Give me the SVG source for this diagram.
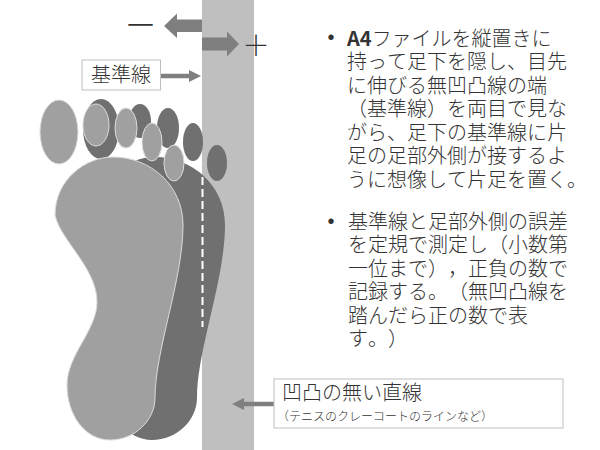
<svg xmlns="http://www.w3.org/2000/svg" width="600" height="450" viewBox="0 0 600 450">
<defs>
<style>
.band{fill:#bfbfbf}
.dark{fill:#707070}
.light{fill:#a0a0a0;stroke:#dcdcdc;stroke-width:1}
.arr{fill:#7f7f7f}
.conn{stroke:#7f7f7f;stroke-width:4.5;fill:none}
.box{fill:#ffffff;stroke:#bfbfbf;stroke-width:1}
.t{font-family:"Noto Sans CJK JP","Noto Sans",sans-serif;fill:#333333;font-weight:300;text-spacing-trim:space-all;font-kerning:none}
.b{font-family:"Liberation Sans",sans-serif;fill:#333333}
</style>
<marker id="head" markerUnits="userSpaceOnUse" markerWidth="12" markerHeight="12" refX="0" refY="6" orient="auto" viewBox="0 0 12 12">
<path d="M0,0 L12,6 L0,12 Z" fill="#7f7f7f"/>
</marker>
<path id="sole" d="M113,157 C85,157 55,180 55,215 C60,240 97,268 97,302 C97,330 67,355 67,385 C67,415 85,440 110,440 C135,440 155,420 155,398 C155,350 183,280 183,225 C183,185 150,157 113,157 Z"/>
</defs>
<rect id="line-band" class="band" x="202" y="0" width="52" height="450"/>
<g id="foot-right" class="dark">
<use href="#sole" transform="translate(42,0)"/>
<ellipse cx="101" cy="129" rx="18" ry="30"/>
<ellipse cx="140" cy="121" rx="11" ry="17"/>
<ellipse cx="168" cy="128" rx="11" ry="20"/>
<ellipse cx="193" cy="142" rx="10" ry="19"/>
<ellipse cx="217" cy="163" rx="10" ry="18"/>
</g>
<line id="dashed-edge" x1="202.5" y1="177" x2="202.5" y2="327" stroke="#ffffff" stroke-width="2" stroke-dasharray="8 4"/>
<g id="foot-left" class="light">
<use href="#sole"/>
<ellipse cx="59" cy="132" rx="19" ry="32"/>
<ellipse cx="96" cy="125" rx="13" ry="21"/>
<ellipse cx="126" cy="128" rx="11" ry="20"/>
<ellipse cx="152" cy="142" rx="10" ry="19"/>
<ellipse cx="174" cy="163" rx="10" ry="18"/>
</g>
<g id="connectors">
<polygon class="arr" points="202,19.5 177,19.5 177,13.5 164,26 177,38 177,32 202,32"/>
<polygon class="arr" points="202,37.5 227,37.5 227,31.5 239,44 227,56.5 227,50.5 202,50.5"/>
<line class="conn" x1="161" y1="76" x2="189" y2="76" marker-end="url(#head)"/>
<line class="conn" x1="274" y1="404" x2="244" y2="404" marker-end="url(#head)"/>
</g>
<g id="sign-minus"><text class="t" x="140.5" y="37" font-size="33" text-anchor="middle">－</text></g>
<g id="sign-plus"><text class="t" x="256" y="55.5" font-size="28" text-anchor="middle">＋</text></g>
<g id="label-kijunsen">
<rect class="box" x="82" y="60" width="78.5" height="30"/>
<text class="t" x="91" y="82" font-size="20">基準線</text>
</g>
<g id="label-straight">
<rect class="box" x="274" y="379" width="289" height="49"/>
<text class="t" x="282" y="400" font-size="20">凹凸の無い直線</text>
<text class="t" x="277" y="421" font-size="12">（テニスのクレーコートのラインなど）</text>
</g>
<g id="bullet-1">
<text class="b" x="331" y="44" font-size="20" text-anchor="middle">•</text>
<text class="t" font-size="20">
<tspan x="347" y="45.5"><tspan font-weight="bold">A4</tspan>ファイルを縦置きに</tspan>
<tspan x="347" y="69">持って足下を隠し、目先</tspan>
<tspan x="347" y="92.6">に伸びる無凹凸線の端</tspan>
<tspan x="347" y="116.2">（基準線）を両目で見な</tspan>
<tspan x="347" y="139.8">がら、足下の基準線に片</tspan>
<tspan x="347" y="163.4">足の足部外側が接するよ</tspan>
<tspan x="347" y="187">うに想像して片足を置く。</tspan>
</text>
</g>
<g id="bullet-2">
<text class="b" x="331" y="228" font-size="20" text-anchor="middle">•</text>
<text class="t" font-size="20">
<tspan x="348" y="228.5">基準線と足部外側の誤差</tspan>
<tspan x="348" y="252">を定規で測定し（小数第</tspan>
<tspan x="348" y="275.5">一位まで），正負の数で</tspan>
<tspan x="348" y="299">記録する。（無凹凸線を</tspan>
<tspan x="348" y="322.5">踏んだら正の数で表</tspan>
<tspan x="348" y="346">す。）</tspan>
</text>
</g>
</svg>
